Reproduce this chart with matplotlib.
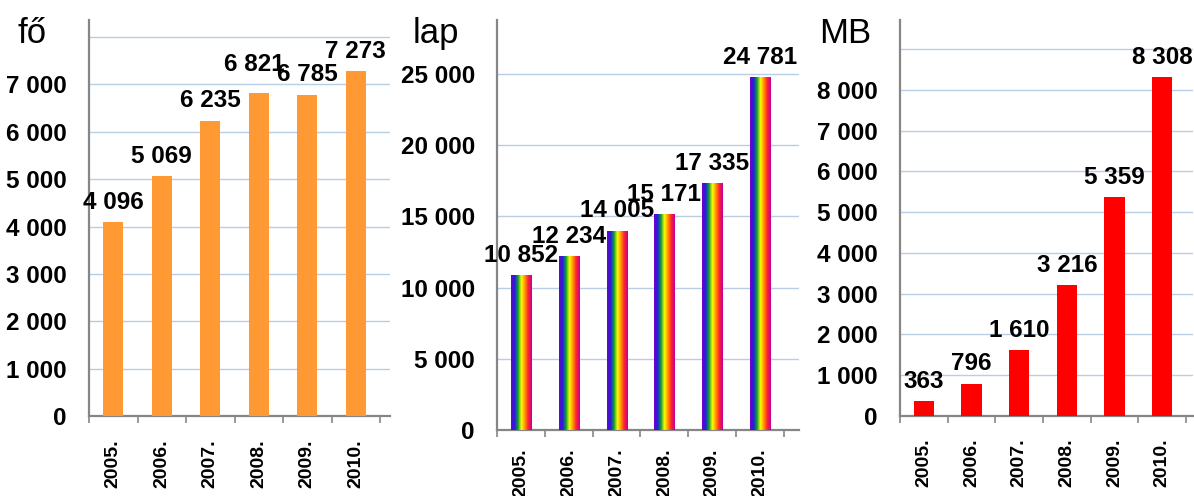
import numpy as np
import matplotlib
matplotlib.use("Agg")
import matplotlib.pyplot as plt
from matplotlib.colors import LinearSegmentedColormap

plt.rcParams['font.family'] = ['Liberation Sans', 'DejaVu Sans']

years = ["2005.", "2006.", "2007.", "2008.", "2009.", "2010."]
users = [4096, 5069, 6235, 6821, 6785, 7273]          # fő
pages = [10852, 12234, 14005, 15171, 17335, 24781]    # lap
megabytes = [363, 796, 1610, 3216, 5359, 8308]        # MB
units = ["fő", "lap", "MB"]

W, H = 1194, 496
fig = plt.figure(figsize=(W / 100, H / 100), dpi=100)

GRID = '#B9CDE5'
SPINE = '#868686'

rainbow = LinearSegmentedColormap.from_list(
    'rb', ['#7000C8', '#2020E0', '#10A030', '#FFFF00', '#FF9000', '#FF2030', '#C000A0'])


def fmt(v):
    return f"{int(v):,}".replace(",", " ")


def make_panel(box, values, unit, unit_x, ylim, ystep, nlab, xmax, color, xpad, nudge=None,
               gradient=False):
    l, r, b, t = box
    ax = fig.add_axes([l / W, 1 - b / H, (r - l) / W, (b - t) / H])
    x = np.arange(len(values))
    bars = ax.bar(x, values, width=0.42, color=color if not gradient else 'none',
                  edgecolor='none', zorder=3)
    if gradient:
        grad = np.linspace(0, 1, 64).reshape(1, -1)
        for bar in bars:
            x0, y0 = bar.get_x(), bar.get_y()
            im = ax.imshow(grad, cmap=rainbow, aspect='auto', zorder=3,
                           extent=[x0, x0 + bar.get_width(), y0, y0 + bar.get_height()],
                           interpolation='bilinear')
            im.set_clip_path(bar)
    ax.set_xlim(-0.5, xmax)
    ax.set_ylim(0, ylim)
    ticks = np.arange(0, ylim, ystep)
    ax.set_yticks(ticks)
    ax.set_yticklabels([fmt(v) if i < nlab else "" for i, v in enumerate(ticks)],
                       fontsize=17.5, fontweight='bold')
    ax.tick_params(axis='y', length=0, pad=16)
    ax.grid(axis='y', color=GRID, linewidth=1.0, zorder=0)
    ax.set_axisbelow(True)
    ax.set_xticks(x)
    ax.set_xticklabels(years, rotation=90, fontsize=14, fontweight='bold',
                       va='top', ha='center')
    ax.tick_params(axis='x', length=0, pad=xpad)
    ax.set_xticks(np.arange(-0.5, len(values)), minor=True)
    ax.tick_params(axis='x', which='minor', length=5, width=1.2, color=SPINE)
    for s in ['top', 'right']:
        ax.spines[s].set_visible(False)
    for s in ['left', 'bottom']:
        ax.spines[s].set_color(SPINE)
        ax.spines[s].set_linewidth(1.6)
    for i, v in enumerate(values):
        dx, dy = (nudge or {}).get(i, (0, 0))
        ax.annotate(fmt(v), (x[i], v), xytext=(dx, 9.5 + dy), textcoords='offset points',
                    ha='center', va='baseline', fontsize=17.5, fontweight='bold', zorder=5)
    fig.text(unit_x / W, 1 - 43 / H, unit, fontsize=25, ha='left', va='baseline')
    return ax


make_panel((89, 390, 416, 20), users, units[0], 17, 8359, 1000, 8, 5.706, '#FF9933', 17,
           nudge={3: (-3, 6)})
make_panel((497, 799, 430, 20), pages, units[1], 413, 28792, 5000, 6, 5.814, None, 13,
           gradient=True)
make_panel((900, 1193, 416, 20), megabytes, units[2], 819, 9711, 1000, 9, 5.647, '#FF0000', 16)

fig.savefig("out.png", dpi=100)
